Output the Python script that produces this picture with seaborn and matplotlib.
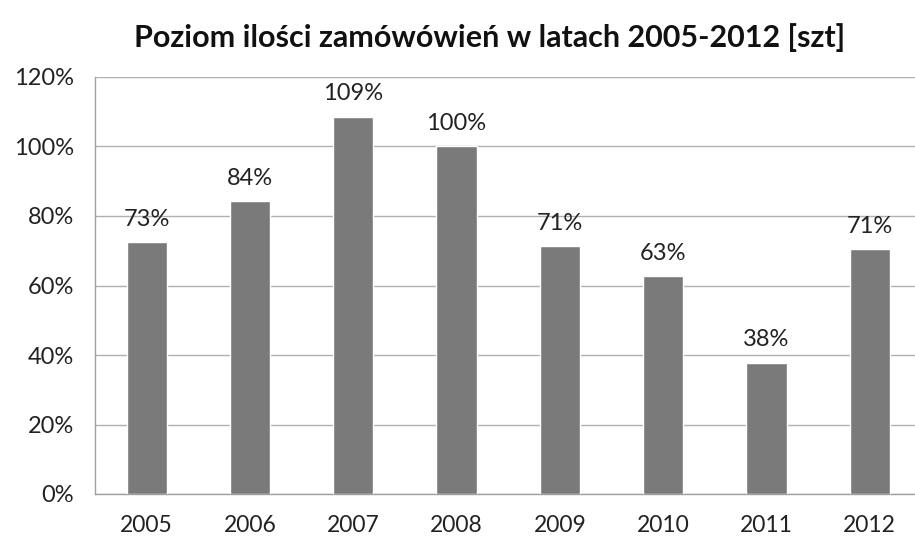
import matplotlib
matplotlib.use('Agg')
import matplotlib.pyplot as plt
import seaborn as sns
import pandas as pd
from matplotlib.ticker import FixedLocator

# Data
years = ['2005', '2006', '2007', '2008', '2009', '2010', '2011', '2012']
share = [72.6, 84.2, 108.6, 100.0, 71.4, 62.8, 37.8, 70.6]
labels = ['73%', '84%', '109%', '100%', '71%', '63%', '38%', '71%']
y_ticks = [0, 20, 40, 60, 80, 100, 120]

df = pd.DataFrame({'Rok': years, 'Udzial': share})

sns.set_style('white')
plt.rcParams['font.family'] = ['Lato', 'DejaVu Sans']

fig = plt.figure(figsize=(9.15, 5.39), dpi=100)
ax = fig.add_axes([95 / 915, 45 / 539, 820 / 915, 417 / 539])

sns.barplot(data=df, x='Rok', y='Udzial', color='#7a7a7a', width=0.39,
            saturation=1, ax=ax, zorder=3)

for i, (v, lab) in enumerate(zip(share, labels)):
    ax.text(i, v + 3.5, lab, ha='center', va='bottom', fontsize=17, color='#222222')

ax.set_ylim(0, 120)
ax.set_xlim(-0.5, -0.5 + 820 / 103.3)
ax.set_yticks(y_ticks)
ax.set_yticklabels([f'{t}%' for t in y_ticks], fontsize=17, color='#222222')
ax.tick_params(axis='x', labelsize=16.5, labelcolor='#222222', length=0, pad=15)
ax.xaxis.set_minor_locator(FixedLocator([i + 0.5 for i in range(len(years))]))
ax.tick_params(axis='x', which='minor', length=9, width=1, color='#a0a0a0', direction='out')
ax.tick_params(axis='y', length=7, width=1, color='#a0a0a0', direction='out', pad=8)
ax.set_xlabel('')
ax.set_ylabel('')

ax.yaxis.grid(True, color='#b0b0b0', linewidth=1)
ax.set_axisbelow(True)
for s in ['top', 'right']:
    ax.spines[s].set_visible(False)
for s in ['left', 'bottom']:
    ax.spines[s].set_color('#a0a0a0')
    ax.spines[s].set_linewidth(1)

fig.text(490 / 915, 1 - 38 / 539, 'Poziom ilości zamówówień w latach 2005-2012 [szt]',
         ha='center', va='center', fontsize=22, fontweight='bold', color='#111111')

fig.savefig('out.png', dpi=100)
